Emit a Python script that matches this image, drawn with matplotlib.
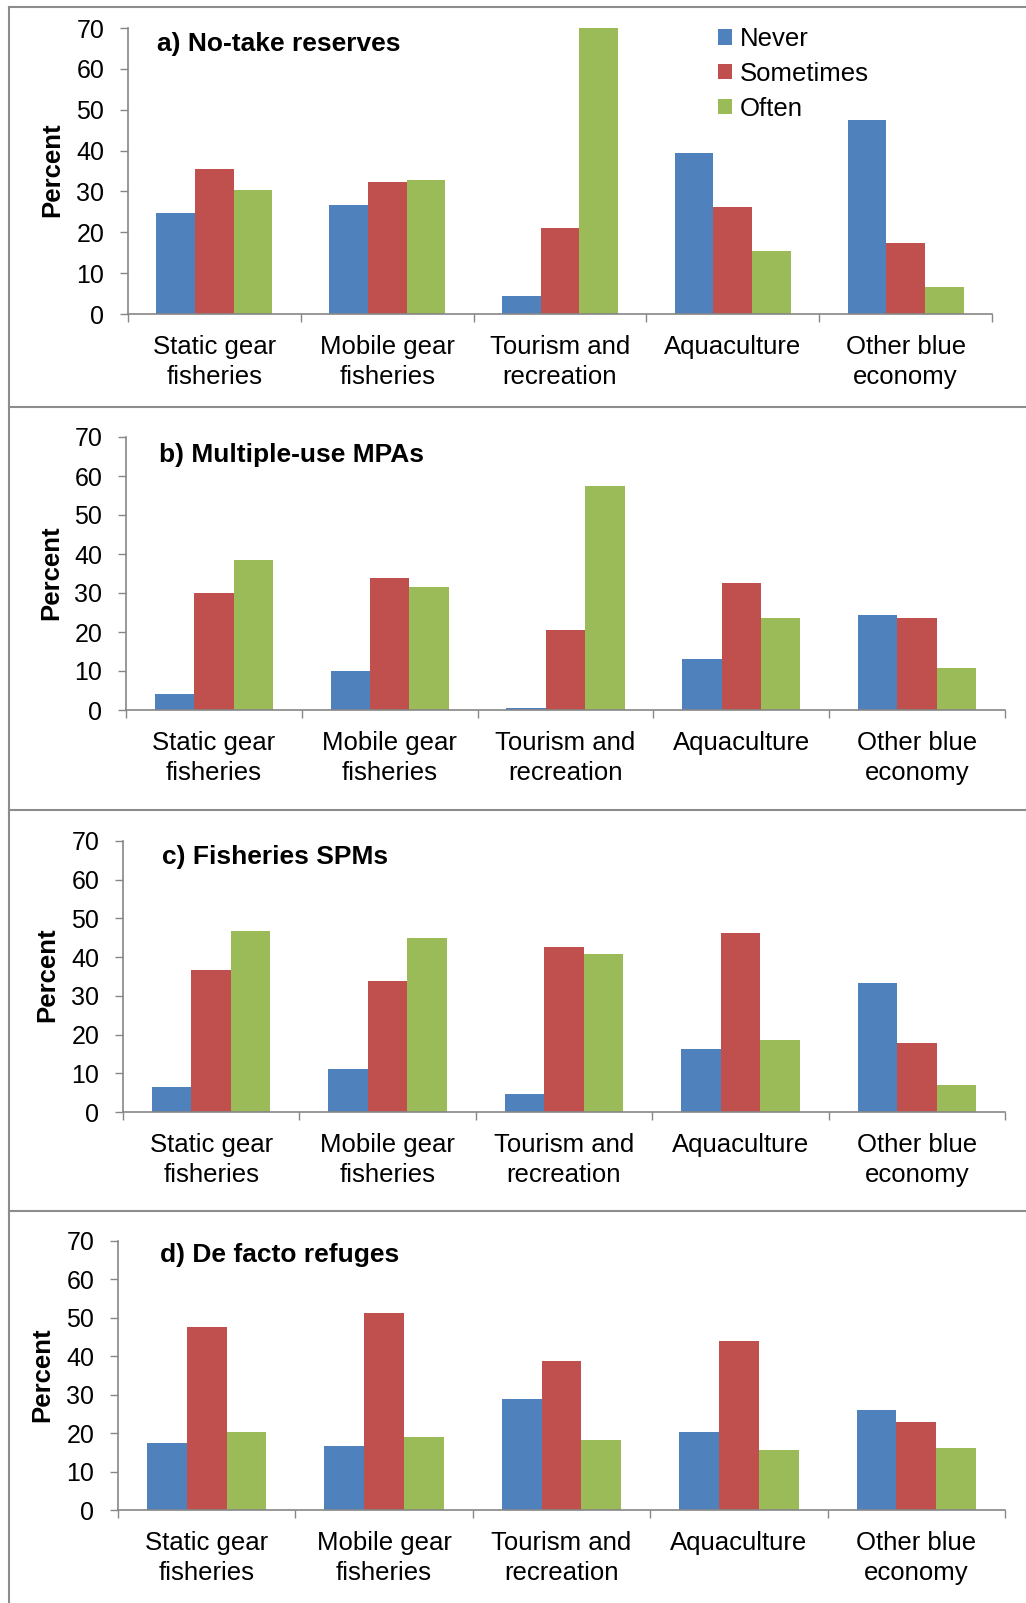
import matplotlib
matplotlib.use('Agg')
from matplotlib import pyplot as plt
from matplotlib.lines import Line2D
import numpy as np

plt.rcParams['font.family'] = ['Liberation Sans', 'DejaVu Sans']

categories = ['Static gear\nfisheries', 'Mobile gear\nfisheries', 'Tourism and\nrecreation',
              'Aquaculture', 'Other blue\neconomy']
series = ['Never', 'Sometimes', 'Often']
colors = ['#4F81BD', '#C0504D', '#9BBB59']
titles = ['a) No-take reserves', 'b) Multiple-use MPAs', 'c) Fisheries SPMs', 'd) De facto refuges']
yticks = [0, 10, 20, 30, 40, 50, 60, 70]

# Never, Sometimes, Often for each category
noTake = [[24.8, 26.6, 4.3, 39.5, 47.5],
          [35.4, 32.4, 21.1, 26.2, 17.3],
          [30.3, 32.9, 70.0, 15.3, 6.7]]
multiUse = [[4.0, 9.9, 0.6, 13.1, 24.3],
            [30.0, 33.9, 20.5, 32.5, 23.5],
            [38.5, 31.5, 57.4, 23.7, 10.8]]
fishSPM = [[6.4, 11.0, 4.7, 16.2, 33.4],
           [36.6, 33.9, 42.7, 46.3, 17.8],
           [46.8, 44.9, 40.9, 18.7, 7.0]]
deFacto = [[17.4, 16.7, 29.0, 20.4, 26.1],
           [47.5, 51.3, 38.7, 44.0, 22.8],
           [20.4, 19.0, 18.1, 15.5, 16.2]]
panels = [noTake, multiUse, fishSPM, deFacto]

W, H = 1026, 1603
fig = plt.figure(figsize=(W/100, H/100), dpi=100)

# axes boxes in pixels: left, right, top, bottom
boxes = [(128, 992, 28, 314), (126, 1005, 437, 710), (123, 1005, 841, 1112), (118, 1005, 1241, 1510)]
titlePos = [(157, 44), (159, 455), (162, 857), (160, 1255)]
ylabPos = [(52, 170), (51, 573), (47, 975), (42, 1375)]

grey = '#868686'
x = np.arange(len(categories))
bw = 0.224

for p in range(4):
    l, r, t, b = boxes[p]
    ax = fig.add_axes([l/W, 1-b/H, (r-l)/W, (b-t)/H])
    for s in range(3):
        ax.bar(x + (s-1)*bw, panels[p][s], bw, color=colors[s], label=series[s], linewidth=0)
    ax.set_xlim(-0.5, 4.5)
    ax.set_ylim(0, 70)
    ax.set_yticks(yticks)
    ax.set_xticks(x)
    ax.set_xticklabels(categories, fontsize=18.5, linespacing=1.3)
    ax.set_xticks(np.arange(-0.5, 5), minor=True)
    ax.tick_params(axis='x', which='major', length=0, pad=15)
    ax.tick_params(axis='x', which='minor', length=6, width=1, color=grey, direction='out')
    ax.tick_params(axis='y', length=6, width=1, color=grey, pad=11, labelsize=18)
    for sp in ['top', 'right']:
        ax.spines[sp].set_visible(False)
    for sp in ['left', 'bottom']:
        ax.spines[sp].set_color(grey)
        ax.spines[sp].set_linewidth(1.2)
    fig.text(titlePos[p][0]/W, 1-titlePos[p][1]/H, titles[p], fontsize=19, fontweight='bold',
             ha='left', va='center')
    fig.text(ylabPos[p][0]/W, 1-ylabPos[p][1]/H, 'Percent', fontsize=18.5, fontweight='bold',
             rotation=90, ha='center', va='center')
    if p == 0:
        ax.legend(loc='upper left', bbox_to_anchor=(718/W, 1-27/H), bbox_transform=fig.transFigure,
                  frameon=False, fontsize=18.5, handlelength=0.55, handleheight=0.55,
                  handletextpad=0.3, labelspacing=0.42, borderpad=0, borderaxespad=0)

# panel frames
frame = '#8c8c8c'
fig.add_artist(Line2D([8.5/W, 8.5/W], [0, 1-7/H], color=frame, lw=1.5, transform=fig.transFigure))
for yy in [7, 407, 810, 1211]:
    fig.add_artist(Line2D([8.5/W, 1], [1-yy/H, 1-yy/H], color=frame, lw=1.5, transform=fig.transFigure))

fig.savefig('out.png', dpi=100)
